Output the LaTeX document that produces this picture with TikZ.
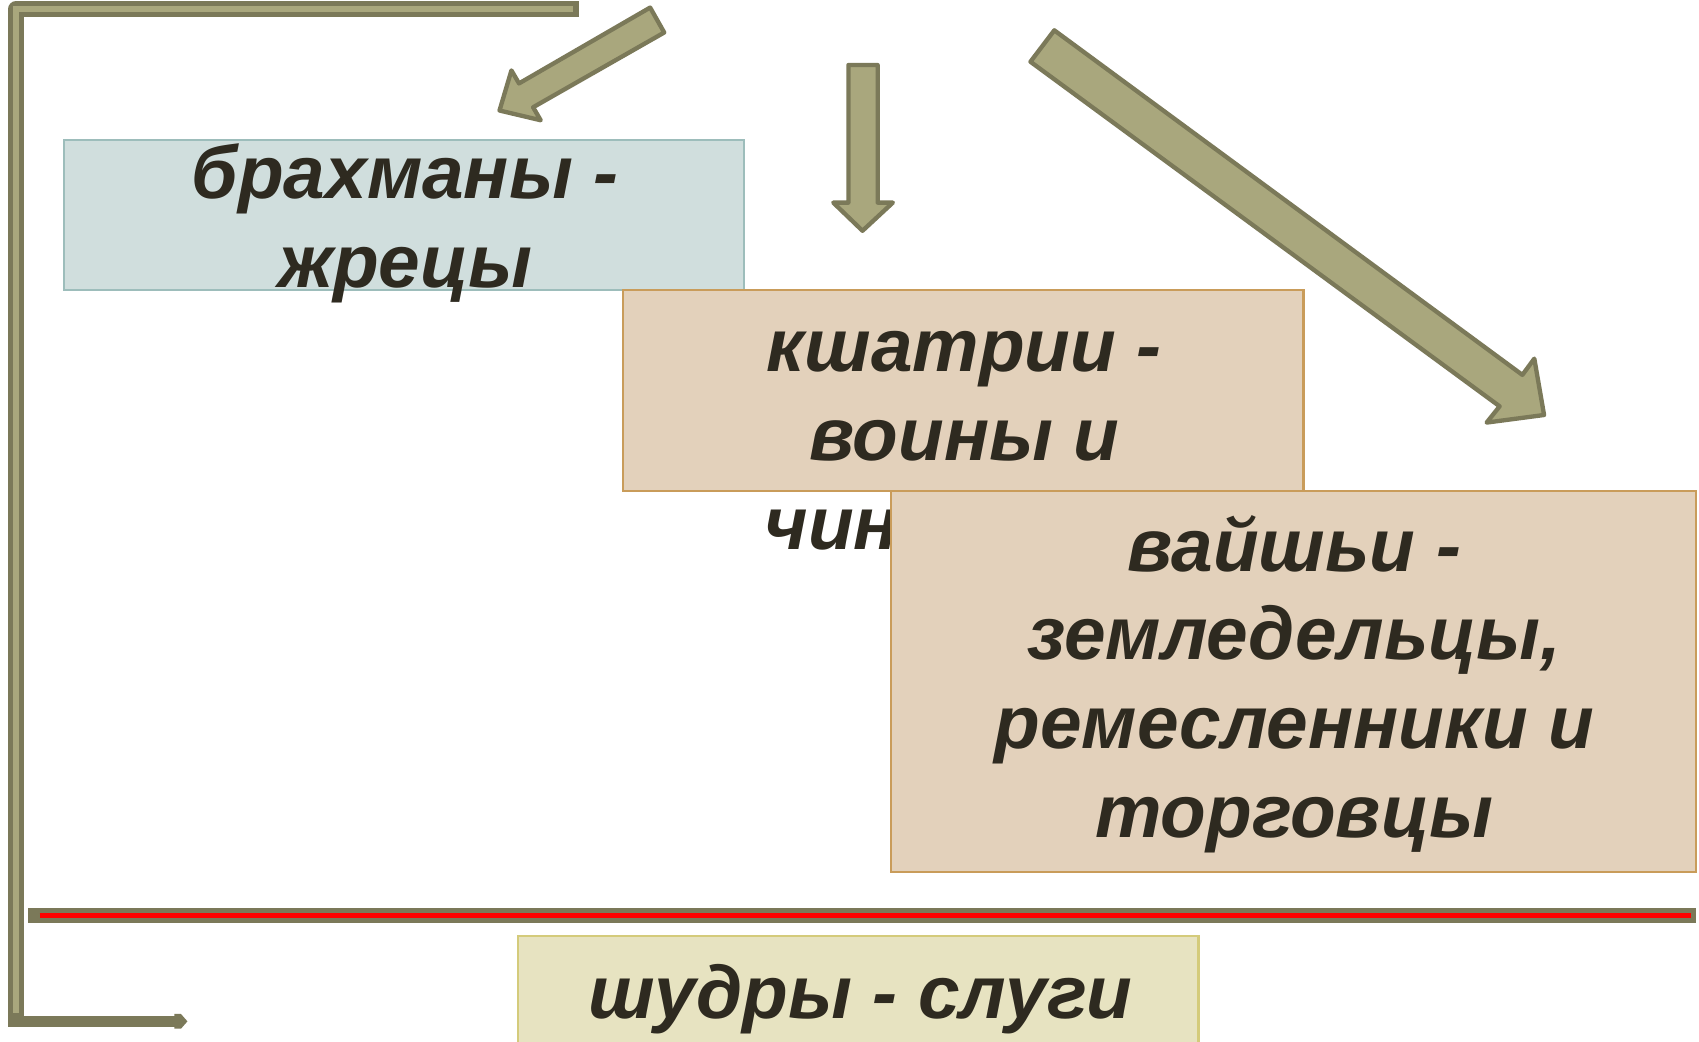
\documentclass[tikz,border=0pt]{standalone}
\usepackage{fontspec}
\setmainfont{Liberation Sans}
\pgfdeclareradialshading{bgshade}{\pgfpoint{0bp}{-6bp}}{color(0bp)=(white); color(42bp)=(white); color(74bp)=(black!17)}
\definecolor{arrfill}{HTML}{A9A77D}
\definecolor{arrdraw}{HTML}{7B7959}
\definecolor{txt}{HTML}{2E2A20}
\definecolor{bfill}{HTML}{D0DEDD}
\definecolor{bdraw}{HTML}{9DBDBB}
\definecolor{kfill}{HTML}{E3D1BB}
\definecolor{kdraw}{HTML}{C99C5A}
\definecolor{sfill}{HTML}{E7E3C1}
\definecolor{sdraw}{HTML}{D4CB7B}
\definecolor{redline}{HTML}{FF0000}
\tikzset{
  blockarrow/.style={fill=arrfill, draw=arrdraw, line width=2pt, line join=round},
  casteframe/.style={rectangle, inner sep=0pt, outer sep=0pt, line width=1pt, anchor=north west},
  castetext/.style={anchor=base, align=center, inner sep=0pt, text=txt,
     font=\fontsize{34.5}{41}\selectfont\bfseries\itshape},
}
\begin{document}
\begin{tikzpicture}[x=0.5pt,y=-0.5pt]
\useasboundingbox (0,0) rectangle (1568,961);
\shade[shading=bgshade] (0,0) rectangle (1568,961);

% left bracket
\draw[arrdraw, line width=5pt, line cap=butt] (10,942.6) -- (163,942.6);
\fill[arrdraw] (161,935.8) -- (167,935.8) -- (173,942.6) -- (167,949.4) -- (161,949.4) -- cycle;
\draw[arrdraw, line width=7.2pt, line cap=rect, line join=round] (527,8.5) -- (14.6,8.5) -- (14.6,941);
\draw[arrfill, line width=2.5pt, line cap=butt, line join=miter] (529,8.5) -- (14.6,8.5) -- (14.6,935);

% block arrows
\draw[blockarrow] (613,30) -- (492,99) -- (499,111) -- (461,102) -- (472,65) -- (479,77) -- (600,7) -- cycle;
\draw[blockarrow] (783,60) -- (810,60) -- (810,187) -- (824,187) -- (796,213) -- (769,187) -- (783,187) -- cycle;
\draw[blockarrow] (973,28) -- (1405,346) -- (1416,331) -- (1425,383) -- (1372,390) -- (1384,375) -- (951,57) -- cycle;

% brahmins
\node[casteframe, fill=bfill, draw=bdraw, minimum width=314pt, minimum height=69.5pt] (brbox) at (59,129) {};
\node[castetext] (brtext) at (374,265) {брахманы -\\жрецы};

% kshatriyas
\node[casteframe, fill=kfill, draw=kdraw, minimum width=314pt, minimum height=92.5pt] (kbox) at (575,268) {};
\node[castetext] (ktext) at (890,507) {кшатрии -\\воины и\\чиновники};

% vaishyas
\node[casteframe, fill=kfill, draw=kdraw, minimum width=371.5pt, minimum height=176pt] (vbox) at (822,453) {};
\node[castetext] (vtext) at (1194.5,773) {вайшьи -\\земледельцы,\\ремесленники и\\торговцы};

% red line
\coordinate (rl) at (32.5,845);
\coordinate (rr) at (1559,845);
\draw[arrdraw, line width=6.6pt, line cap=rect] (rl) -- (rr);
\draw[redline, line width=2pt] ([xshift=2pt]rl) -- ([xshift=1pt]rr);

% shudras
\node[casteframe, fill=sfill, draw=sdraw, minimum width=314pt, minimum height=63pt] (sbox) at (478,864) {};
\node[castetext] (stext) at (794,940) {шудры - слуги};
\end{tikzpicture}
\end{document}
